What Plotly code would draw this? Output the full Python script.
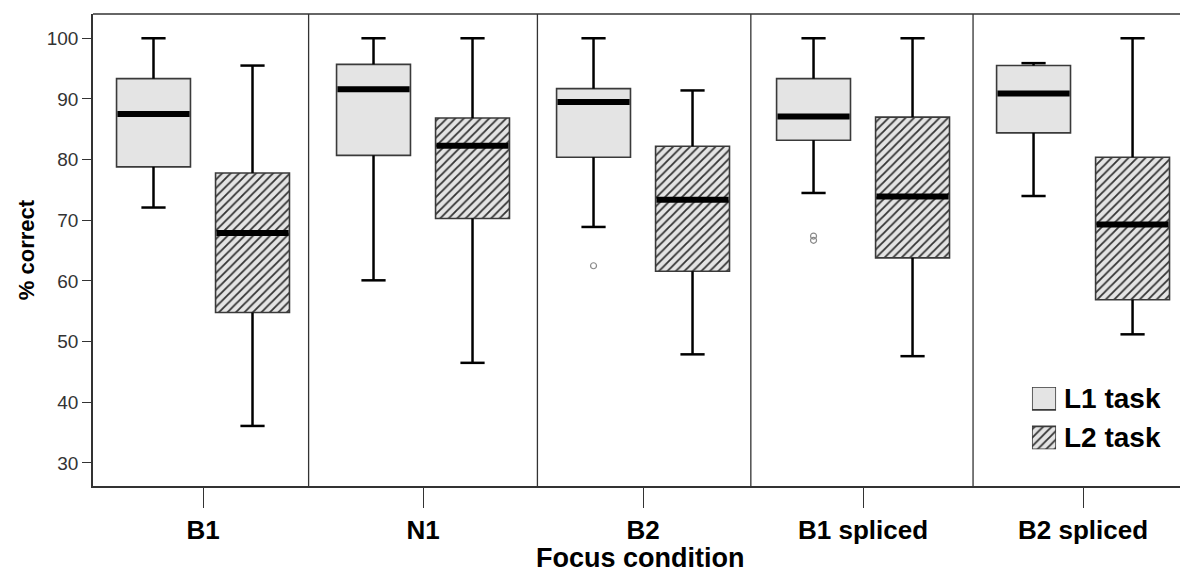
import plotly.graph_objects as go

categories = ["B1", "N1", "B2", "B1 spliced", "B2 spliced"]
series_names = ["L1 task", "L2 task"]

# L1 task box statistics
l1_low = [72.1, 60.1, 68.9, 74.5, 74.0]
l1_q1 = [78.8, 80.7, 80.4, 83.2, 84.4]
l1_med = [87.5, 91.6, 89.5, 87.1, 90.9]
l1_q3 = [93.35, 95.7, 91.7, 93.35, 95.5]
l1_high = [100, 100, 100, 100, 95.9]
l1_out_cat = [2, 3, 3]
l1_out_val = [62.5, 67.4, 66.7]

# L2 task box statistics
l2_low = [36.1, 46.5, 47.9, 47.6, 51.2]
l2_q1 = [54.8, 70.3, 61.6, 63.8, 56.9]
l2_med = [67.9, 82.3, 73.4, 73.9, 69.3]
l2_q3 = [77.8, 86.85, 82.2, 87.0, 80.4]
l2_high = [95.5, 100, 91.4, 100, 100]

y_ticks = [30, 40, 50, 60, 70, 80, 90, 100]
dividers = [0.48, 1.52, 2.49, 3.50]

OFFSET = 0.225
BOXW = 0.336
CAPW = 0.11
FONT = "Liberation Sans, Arial, sans-serif"
BOXFILL = "#e4e4e4"
BOXLINE = dict(color="#3a3a3a", width=1.6)
PATTERNS = [dict(shape=""),
            dict(shape="/", fgcolor="#333333", bgcolor=BOXFILL,
                 size=6, solidity=0.3, fillmode="replace")]

fig = go.Figure()

def add_group(low, q1, med, q3, high, off, pattern):
    xs = [i + off for i in range(len(categories))]
    wx, wy = [], []
    for x, lo, a, b, hi in zip(xs, low, q1, q3, high):
        wx += [x, x, None, x, x, None,
               x - CAPW / 2, x + CAPW / 2, None, x - CAPW / 2, x + CAPW / 2, None]
        wy += [b, hi, None, a, lo, None, hi, hi, None, lo, lo, None]
    fig.add_trace(go.Scatter(x=wx, y=wy, mode="lines",
                             line=dict(color="black", width=2.5),
                             showlegend=False, hoverinfo="skip"))
    fig.add_trace(go.Bar(
        x=xs, y=[b - a for a, b in zip(q1, q3)], base=q1, width=BOXW,
        showlegend=False, hoverinfo="skip",
        marker=dict(color=BOXFILL, line=BOXLINE, pattern=pattern),
    ))
    mx, my = [], []
    for x, m in zip(xs, med):
        mx += [x - BOXW / 2 + 0.004, x + BOXW / 2 - 0.004, None]
        my += [m, m, None]
    fig.add_trace(go.Scatter(x=mx, y=my, mode="lines",
                             line=dict(color="black", width=6),
                             showlegend=False, hoverinfo="skip"))

add_group(l1_low, l1_q1, l1_med, l1_q3, l1_high, -OFFSET, PATTERNS[0])
add_group(l2_low, l2_q1, l2_med, l2_q3, l2_high, OFFSET, PATTERNS[1])

fig.add_trace(go.Scatter(
    x=[c - OFFSET for c in l1_out_cat], y=l1_out_val, mode="markers",
    marker=dict(symbol="circle-open", size=6, color="#8a8a8a",
                line=dict(width=1.2)),
    showlegend=False, hoverinfo="skip"))

# Legend drawn as an inset axis (large swatches like the original)
n = len(series_names)
ROW = 1.0
SW = 0.58
for k, name in enumerate(series_names):
    base = (n - 1 - k) * ROW
    fig.add_trace(go.Bar(
        x=[0], y=[SW], base=[base], width=1.0, xaxis="x2", yaxis="y2",
        showlegend=False, hoverinfo="skip",
        marker=dict(color=BOXFILL, line=BOXLINE, pattern=PATTERNS[k]),
    ))

LEG_X0, LEG_X1 = 0.8575, 0.8795
LEG_Y0, LEG_Y1 = 0.078, 0.2097
annotations = []
for k, name in enumerate(series_names):
    row_center = (n - 1 - k) * ROW + SW / 2
    frac = row_center / ((n - 1) * ROW + SW)
    annotations.append(dict(
        text=name, xref="paper", yref="paper",
        x=LEG_X1 + 0.005, y=LEG_Y0 + frac * (LEG_Y1 - LEG_Y0),
        xanchor="left", yanchor="middle", showarrow=False,
        font=dict(family=FONT, size=28, color="black", weight="bold")))

# x-axis title as an annotation just under the tick labels
annotations.append(dict(
    text="Focus condition", xref="paper", yref="paper",
    x=0.5, y=-0.1525, xanchor="center", yanchor="middle",
    showarrow=False, borderpad=0,
    font=dict(family=FONT, size=27, color="black", weight="bold")))

shapes = []
for d in dividers:
    shapes.append(dict(type="line", xref="x", yref="paper", x0=d, x1=d,
                       y0=0, y1=1, line=dict(color="#333333", width=1.3)))
shapes.append(dict(type="line", xref="paper", yref="paper", x0=0, x1=1,
                   y0=1, y1=1, line=dict(color="#333333", width=1.6)))

# page body has an 8px margin: shrink the figure so the plot lands where the
# original's does inside the 1188x574 window
fig.update_layout(
    width=1180, height=566,
    margin=dict(l=85, r=0, t=6, b=88),
    plot_bgcolor="white", paper_bgcolor="white",
    barmode="overlay",
    showlegend=False,
    shapes=shapes,
    annotations=annotations,
    font=dict(family=FONT, color="black"),
    xaxis=dict(
        range=[-0.5, 4.477], tickmode="array",
        tickvals=list(range(len(categories))), ticktext=categories,
        ticks="outside", ticklen=20, tickwidth=1.4, tickcolor="#333333",
        showline=True, linecolor="#333333", linewidth=1.6,
        showgrid=False, zeroline=False, automargin=False,
        tickfont=dict(family=FONT, size=26, color="black", weight="bold"),
    ),
    yaxis=dict(
        range=[26.2, 104.0], tickmode="array", tickvals=y_ticks,
        ticks="outside", ticklen=9, tickwidth=1.4, tickcolor="#333333",
        showline=True, linecolor="#333333", linewidth=1.6,
        showgrid=False, zeroline=False, automargin=False,
        tickfont=dict(family=FONT, size=19, color="#333333"),
        title=dict(text="% correct", standoff=6,
                   font=dict(family=FONT, size=22, color="black", weight="bold")),
    ),
    xaxis2=dict(domain=[LEG_X0, LEG_X1], anchor="y2", range=[-0.5, 0.5],
                visible=False, fixedrange=True),
    yaxis2=dict(domain=[LEG_Y0, LEG_Y1], anchor="x2",
                range=[0, (n - 1) * ROW + SW], visible=False, fixedrange=True),
)

fig.write_html("out.html")
